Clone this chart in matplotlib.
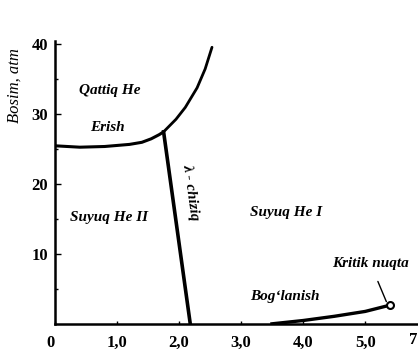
# -*- coding: utf-8 -*-
import matplotlib
matplotlib.use("Agg")
import matplotlib.pyplot as plt

# Geliy fazaviy diagrammasi: T (K) va bosim (atm)
erish_T = [0.0, 0.4, 0.8, 1.2, 1.4, 1.55, 1.68, 1.75]
erish_P = [25.5, 25.3, 25.4, 25.7, 26.0, 26.5, 27.1, 27.5]

qattiq_T = [1.75, 1.95, 2.10, 2.29, 2.42, 2.53]
qattiq_P = [27.5, 29.3, 31.0, 33.8, 36.5, 39.6]

lambda_T = [1.75, 2.18]
lambda_P = [27.5, 0.0]

boglanish_T = [3.47, 4.0, 4.5, 5.0, 5.40]
boglanish_P = [0.0, 0.5, 1.1, 1.8, 2.7]

kritik_T = 5.40
kritik_P = 2.7

x_ticks = [0, 1, 2, 3, 4, 5]
x_labels = ["0", "1,0", "2,0", "3,0", "4,0", "5,0"]
y_ticks = [10, 20, 30, 40]
y_minor = [5, 15, 25, 35]

fig = plt.figure(figsize=(4.18, 3.56), dpi=100)
ax = fig.add_axes([0.1316, 0.0899, 0.8684, 0.795])

ax.plot(erish_T, erish_P, color="black", lw=2.2, solid_capstyle="round")
ax.plot(qattiq_T, qattiq_P, color="black", lw=2.0, solid_capstyle="round")
ax.plot(lambda_T, lambda_P, color="black", lw=2.6)
ax.plot(boglanish_T, boglanish_P, color="black", lw=2.4, solid_capstyle="butt")
ax.plot([kritik_T], [kritik_P], marker="o", ms=5, mfc="white", mec="black", mew=1.5)

ax.set_xlim(0, 5.85)
ax.set_ylim(0, 40.5)

for s in ["top", "right"]:
    ax.spines[s].set_visible(False)
for s in ["left", "bottom"]:
    ax.spines[s].set_linewidth(1.8)

tick_font = dict(family="Liberation Serif", weight="bold", size=12)
ax.set_xticks(x_ticks)
ax.set_xticklabels(x_labels, **tick_font)
ax.set_yticks(y_ticks)
ax.set_yticklabels([str(v) for v in y_ticks], **tick_font)
ax.set_yticks(y_minor, minor=True)
ax.tick_params(axis="y", which="major", direction="in", length=4, width=1, pad=5)
ax.tick_params(axis="y", which="minor", direction="in", length=2, width=1)
ax.tick_params(axis="x", which="major", direction="in", length=2, width=1, pad=8)
ax.get_xticklabels()[0].set_horizontalalignment("right")
ax.text(5.78, -1.2, "7", ha="center", va="top", clip_on=False, **tick_font)

lab = dict(family="Liberation Serif", style="italic", weight="bold", size=11)
ax.text(0.88, 33.4, "Qattiq He", ha="center", va="center", **lab)
ax.text(0.84, 28.1, "Erish", ha="center", va="center", **lab)
ax.text(0.87, 15.2, "Suyuq He II", ha="center", va="center", **lab)
ax.text(3.73, 16.0, "Suyuq He I", ha="center", va="center", **lab)
ax.text(3.71, 4.0, "Bog\u2018lanish", ha="center", va="center", **lab)
ax.text(2.19, 18.8, "\u03bb - chiziq", ha="center", va="center",
        rotation=-82, **lab)
ax.annotate("Kritik nuqta", xy=(kritik_T - 0.06, kritik_P + 0.5),
            xytext=(5.08, 8.7), ha="center", va="center",
            arrowprops=dict(arrowstyle="-", color="black", lw=1.0,
                            shrinkA=7, shrinkB=0), **lab)

fig.text(15 / 418, 1 - 86 / 356, "Bosim, atm", rotation=90, ha="center",
         va="center", family="Liberation Serif", style="italic", size=12)

fig.savefig("out.png", dpi=100)
